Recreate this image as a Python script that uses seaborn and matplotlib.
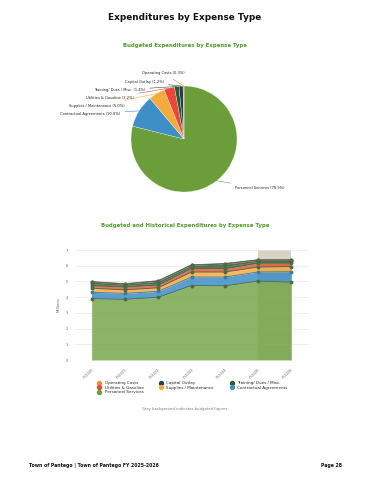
import numpy as np
import pandas as pd
import matplotlib
matplotlib.use("Agg")
import matplotlib.pyplot as plt
import seaborn as sns

# Data
categories = ["Personnel Services", "Contractual Agreements", "Supplies / Maintenance",
              "Utilities & Gasoline", "Training/ Dues / Misc.", "Capital Outlay", "Operating Costs"]
pie_pct = [78.9, 10.0, 5.0, 3.2, 1.4, 1.2, 0.3]
years = ["FY2020", "FY2021", "FY2022", "FY2023", "FY2024", "FY2025", "FY2026"]
personnel = [3.90, 3.86, 3.99, 4.74, 4.72, 5.02, 4.95]
contractual = [0.41, 0.38, 0.38, 0.54, 0.56, 0.58, 0.67]
supplies = [0.26, 0.22, 0.23, 0.32, 0.32, 0.32, 0.33]
utilities = [0.16, 0.19, 0.17, 0.23, 0.21, 0.25, 0.22]
training = [0.13, 0.10, 0.13, 0.11, 0.16, 0.10, 0.10]
capital = [0.10, 0.08, 0.12, 0.10, 0.14, 0.09, 0.09]
operating = [0.03, 0.03, 0.03, 0.02, 0.03, 0.02, 0.02]

colors = ["#6b9e3a", "#3e8fc6", "#f5ab3c", "#e8473a", "#2d5a2d", "#1e3d5c", "#f08c2c"]
area_colors = ["#6fa240", "#3287c4", "#f4a62f", "#e24c33", "#325c27", "#374b54", "#f08a2c"]

sns.set_theme(style="white")
plt.rcParams["font.family"] = ["DejaVu Sans"]

fig = plt.figure(figsize=(3.7, 4.8), dpi=100)

fig.text(0.5, 1 - 17 / 480, "Expenditures by Expense Type", ha="center", va="center",
         fontsize=6.4, fontweight="heavy", color="#111111")
fig.text(0.5, 1 - 45 / 480, "Budgeted Expenditures by Expense Type", ha="center", va="center",
         fontsize=3.9, fontweight="bold", color="#4f9a2a")

# Pie
ax1 = fig.add_axes([131 / 370, 1 - 192 / 480, 106 / 370, 106 / 480])
wedges, _ = ax1.pie(pie_pct, colors=colors, startangle=90, counterclock=False,
                    wedgeprops=dict(linewidth=0.2, edgecolor="white"))
ax1.set_xlim(-1, 1)
ax1.set_ylim(-1, 1)

label_pos = {
    "Operating Costs": (185, 73),
    "Capital Outlay": (164, 82),
    "Training/ Dues / Misc.": (145, 90),
    "Utilities & Gasoline": (134, 98),
    "Supplies / Maintenance": (125, 106),
    "Contractual Agreements": (120, 114),
}
for w, cat, pct, col in zip(wedges, categories, pie_pct, colors):
    ang = np.deg2rad((w.theta1 + w.theta2) / 2)
    xy = (np.cos(ang), np.sin(ang))
    txt = f"{cat} ({pct}%)"
    if cat == "Personnel Services":
        tx, ty = 235, 188
        ha = "left"
    else:
        tx, ty = label_pos[cat]
        ha = "right"
    ax1.annotate(txt, xy=xy, xytext=(tx / 370, 1 - ty / 480), textcoords="figure fraction",
                 ha=ha, va="center", fontsize=2.6, color="#222222",
                 arrowprops=dict(arrowstyle="-", color=col, lw=0.4,
                                 shrinkA=1, shrinkB=0))

fig.text(0.5, 1 - 225 / 480, "Budgeted and Historical Expenditures by Expense Type",
         ha="center", va="center", fontsize=3.9, fontweight="bold", color="#4f9a2a")

# Stacked area
ax2 = fig.add_axes([75 / 370, 0.25, 233 / 370, 110 / 480])
series = [personnel, contractual, supplies, utilities, training, capital, operating]
x = np.arange(len(years))
ax2.axvspan(5, 6, color="#d6d3c3", linewidth=0, zorder=0)
ax2.stackplot(x, *series, colors=area_colors, alpha=0.8, linewidth=0, zorder=2)

cum = np.cumsum(np.array(series), axis=0)
rows = []
for cat, vals in zip(categories, cum):
    for xi, v in zip(x, vals):
        rows.append({"x": xi, "value": v, "category": cat})
df = pd.DataFrame(rows)
line_cols = {c: "#4e6b44" for c in categories}
line_cols["Contractual Agreements"] = "#3d7aa6"
line_cols["Capital Outlay"] = "#3f4f55"
sns.lineplot(data=df, x="x", y="value", hue="category", palette=line_cols, marker="o",
             markersize=2.8, linewidth=0.6, markeredgewidth=0, legend=False, ax=ax2, zorder=3)

ax2.set_xlim(-0.5, 6.5)
ax2.set_ylim(0, 7)
ax2.set_xticks(x)
ax2.set_xticklabels(years, rotation=45, ha="right", rotation_mode="anchor",
                    fontsize=2.6, color="#666666")
ax2.set_yticks(range(0, 8))
ax2.set_yticklabels([str(i) for i in range(8)], fontsize=2.6, color="#666666")
ax2.tick_params(length=0, pad=5)
ax2.set_xlabel("")
ax2.set_ylabel("Millions", fontsize=2.8, color="#666666", labelpad=4)
ax2.grid(axis="y", color="#e6e6e6", linewidth=0.5)
ax2.set_axisbelow(True)
for s in ax2.spines.values():
    s.set_visible(False)

# Legend
legend_order = ["Operating Costs", "Utilities & Gasoline", "Personnel Services",
                "Capital Outlay", "Supplies / Maintenance",
                "Training/ Dues / Misc.", "Contractual Agreements"]
cmap = dict(zip(categories, colors))
handles = [plt.Line2D([], [], marker="o", linestyle="", markersize=2.8,
                      color=cmap[c], label=c) for c in legend_order]
fig.legend(handles=handles, ncol=3, loc="upper left", bbox_to_anchor=(93 / 370, 1 - 379 / 480),
           frameon=False, fontsize=3.0, handletextpad=0.3, columnspacing=3.2,
           labelspacing=0.15, borderpad=0)

fig.text(0.5, 1 - 409 / 480, "Grey background indicates budgeted figures.", ha="center",
         va="center", fontsize=2.7, color="#777777")

# Footer
fig.text(29 / 370, 1 - 465 / 480, "Town of Pantego | Town of Pantego FY 2025-2026",
         ha="left", va="center", fontsize=3.3, fontweight="bold", color="#111111")
fig.text(342 / 370, 1 - 465 / 480, "Page 28", ha="right", va="center",
         fontsize=3.3, fontweight="bold", color="#111111")

fig.savefig("out.png", dpi=100)
